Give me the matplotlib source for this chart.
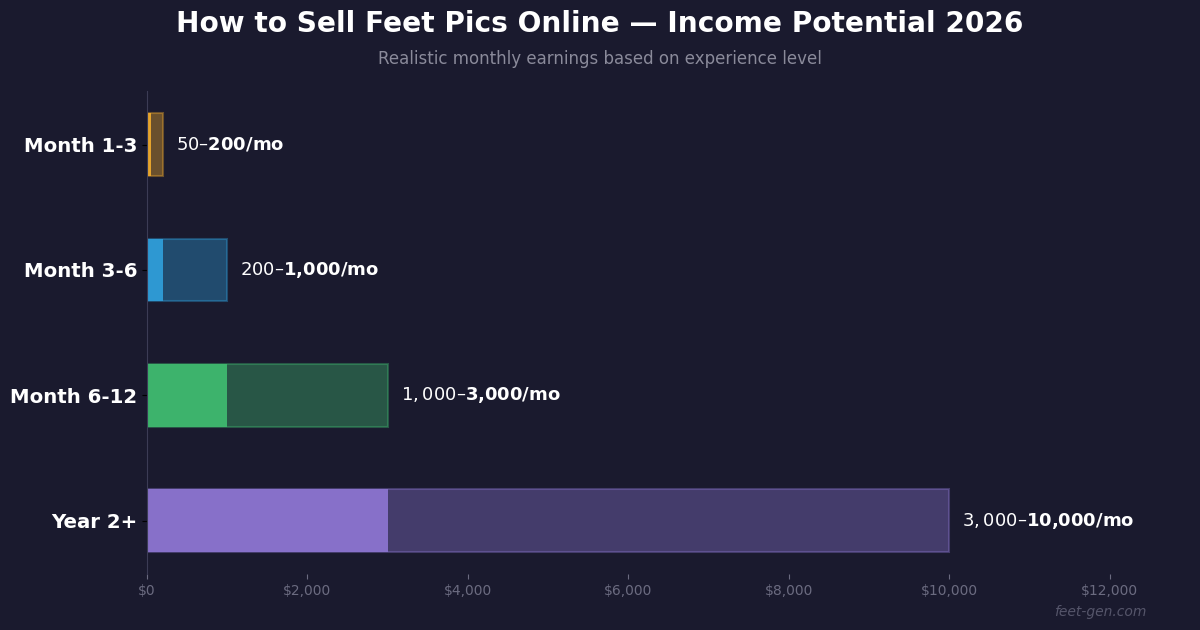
import matplotlib
matplotlib.use("Agg")
import matplotlib.pyplot as plt

categories = ["Month 1-3", "Month 3-6", "Month 6-12", "Year 2+"]
low_values = [50, 200, 1000, 3000]
high_values = [200, 1000, 3000, 10000]
labels = ["$50–$200/mo", "$200–$1,000/mo", "$1,000–$3,000/mo", "$3,000–$10,000/mo"]
colors = ["#eea92c", "#2f9dd8", "#3fb96f", "#8b74cf"]
xticks = [0, 2000, 4000, 6000, 8000, 10000, 12000]
xticklabels = ["$0", "$2,000", "$4,000", "$6,000", "$8,000", "$10,000", "$12,000"]

bg = "#1a1a2e"
fig = plt.figure(figsize=(12, 6.3), dpi=100, facecolor=bg)
ax = fig.add_axes([0.1225, 0.089, 0.8358, 0.766])
ax.set_facecolor(bg)

y = list(range(len(categories)))
ax.barh(y, high_values, height=0.5, color=colors, alpha=0.38,
        edgecolor=colors, linewidth=1.5)
ax.barh(y, low_values, height=0.5, color=colors, alpha=0.95)

for yi, hv, lab in zip(y, high_values, labels):
    ax.text(hv + 160, yi, lab, va="center", ha="left", color="white",
            fontsize=13, fontweight="bold")

ax.set_yticks(y)
ax.set_yticklabels(categories, fontsize=14.2, fontweight="bold", color="white")
ax.invert_yaxis()
ax.set_xlim(0, 12500)
ax.set_xticks(xticks)
ax.set_xticklabels(xticklabels, fontsize=10, color="#6b6b80")
ax.tick_params(axis="x", colors="#6b6b80", labelcolor="#6b6b80")
ax.tick_params(axis="y", colors="black", labelcolor="white")

for s in ["top", "right", "bottom"]:
    ax.spines[s].set_visible(False)
ax.spines["left"].set_color("#3c3c55")

fig.text(0.5, 0.962, "How to Sell Feet Pics Online — Income Potential 2026",
         ha="center", va="center", color="white", fontsize=20.2, fontweight="bold")
fig.text(0.5, 0.906, "Realistic monthly earnings based on experience level",
         ha="center", va="center", color="#8a8a9a", fontsize=12)
fig.text(0.955, 0.028, "feet-gen.com", ha="right", va="center",
         color="#55556a", fontsize=10, style="italic")

fig.savefig("out.png", dpi=100, facecolor=bg)
